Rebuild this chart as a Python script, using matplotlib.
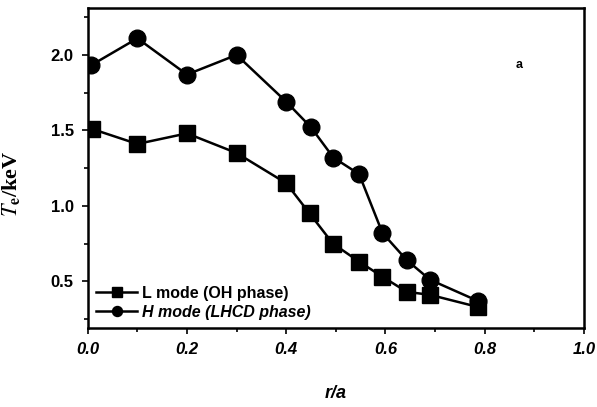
import numpy as np
import matplotlib.pyplot as plt

# Perfiles de temperatura electrónica
r_l = [0.008, 0.10, 0.20, 0.30, 0.40, 0.447, 0.494, 0.547, 0.594, 0.643, 0.69, 0.786]
te_l = [1.51, 1.41, 1.48, 1.35, 1.15, 0.95, 0.75, 0.63, 0.53, 0.43, 0.41, 0.33]

r_h = [0.006, 0.10, 0.20, 0.30, 0.40, 0.45, 0.495, 0.547, 0.594, 0.643, 0.69, 0.786]
te_h = [1.93, 2.11, 1.87, 2.00, 1.69, 1.52, 1.32, 1.21, 0.82, 0.64, 0.51, 0.37]

etiquetas = ['L mode (OH phase)', 'H mode (LHCD phase)']

plt.rcParams['font.family'] = 'Liberation Sans'
plt.rcParams['mathtext.fontset'] = 'stix'

fig = plt.figure(figsize=(5.97, 4.07), dpi=100)
ax = fig.add_axes([0.147, 0.194, 0.831, 0.786])

ax.plot(r_l, te_l, color='black', lw=1.8, marker='s', ms=11, label=etiquetas[0])
ax.plot(r_h, te_h, color='black', lw=1.8, marker='o', ms=12, label=etiquetas[1])

ax.set_xlim(0, 1.0)
ax.set_ylim(0.19, 2.31)
ax.set_xticks(np.arange(0, 1.01, 0.2))
ax.set_xticks(np.arange(0.1, 1.0, 0.2), minor=True)
ax.set_yticks([0.5, 1.0, 1.5, 2.0])
ax.set_yticks([0.25, 0.75, 1.25, 1.75, 2.25], minor=True)
ax.tick_params(which='both', direction='out', length=4, width=1.2,
               top=False, right=False, labelsize=12, pad=6)
ax.tick_params(which='minor', length=3)
for lab in ax.get_xticklabels():
    lab.set_fontweight('bold')
    lab.set_fontstyle('italic')
for lab in ax.get_yticklabels():
    lab.set_fontweight('bold')
for s in ax.spines.values():
    s.set_linewidth(1.8)

ax.set_xlabel('r/a', fontsize=13, fontweight='bold', fontstyle='italic', labelpad=20)
ax.set_ylabel(r'$\mathbf{\mathit{T}_e}$/keV', fontsize=16, fontfamily='Liberation Serif',
              fontweight='bold')
ax.yaxis.set_label_coords(-0.13, 0.45)

ax.text(0.87, 1.93, 'a', fontsize=9, fontweight='bold', ha='center', va='center')

leg = ax.legend(loc='lower left', frameon=False, markerscale=0.6, handlelength=2.6,
                handletextpad=0.3, borderaxespad=0.1, labelspacing=0.25,
                prop={'size': 11.5, 'weight': 'bold'})
leg.get_texts()[1].set_fontstyle('italic')

fig.savefig('out.png', dpi=100)
